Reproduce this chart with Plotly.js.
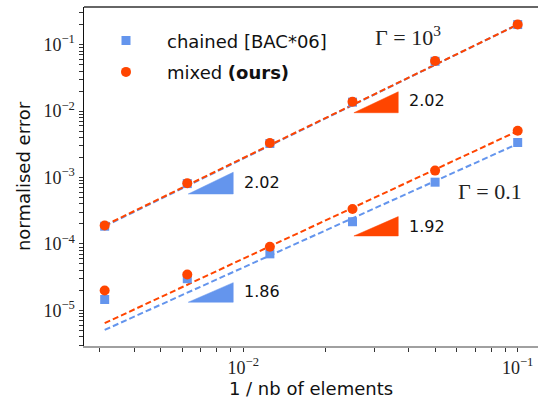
<!DOCTYPE html>
<html><head><meta charset="utf-8">
<script src="https://cdn.plot.ly/plotly-3.0.1.min.js"></script>
<style>html,body{margin:0;padding:0;background:#fff;}#chart{width:538px;height:401px;}</style>
</head><body><div id="chart"></div>
<script>
// 1 / nb of elements
const xVals = [0.003125, 0.00625, 0.0125, 0.025, 0.05, 0.1];
// Gamma = 10^3
const chainedG1000 = [1.85e-4, 8.1e-4, 3.25e-3, 1.36e-2, 5.6e-2, 0.2];
const mixedG1000   = [1.9e-4, 8.2e-4, 3.3e-3, 1.38e-2, 5.66e-2, 0.2];
// Gamma = 0.1
const chainedG01 = [1.46e-5, 3.0e-5, 7.1e-5, 2.16e-4, 8.5e-4, 3.36e-3];
const mixedG01   = [2.0e-5, 3.47e-5, 9.1e-5, 3.36e-4, 1.27e-3, 5.06e-3];
// fitted lines (end points)
const fitX = [0.003125, 0.1];
const fitChainedG1000 = [1.85e-4, 0.2];
const fitMixedG1000   = [1.9e-4, 0.2];
const fitChainedG01   = [5.09e-6, 3.21e-3];
const fitMixedG01     = [6.43e-6, 5.0e-3];
// slope triangles
const triBlueTopX = [0.0063, 0.00919, 0.00919, 0.0063];
const triBlueTopY = [5.65e-4, 5.65e-4, 1.20e-3, 5.65e-4];
const triBlueLowX = [0.0063, 0.00919, 0.00919, 0.0063];
const triBlueLowY = [1.33e-5, 1.33e-5, 2.62e-5, 1.33e-5];
const triOrTopX = [0.0253, 0.0367, 0.0367, 0.0253];
const triOrTopY = [9.43e-3, 9.43e-3, 1.95e-2, 9.43e-3];
const triOrLowX = [0.0253, 0.0367, 0.0367, 0.0253];
const triOrLowY = [1.32e-4, 1.32e-4, 2.58e-4, 1.32e-4];
const slopeLabels = ['2.02', '1.86', '2.02', '1.92'];
// tick labels
const xTickVals = [0.01, 0.1];
const xTickText = ['10<sup>−2</sup>', '10<sup>−1</sup>'];
const yTickVals = [1e-5, 1e-4, 1e-3, 1e-2, 1e-1];
const yTickText = ['10<sup>−5</sup>', '10<sup>−4</sup>', '10<sup>−3</sup>', '10<sup>−2</sup>', '10<sup>−1</sup>'];

const BLUE = '#6495ED', ORANGE = '#FF4500';
const SANS = 'DejaVu Sans', SERIF = 'Liberation Serif';
const X_RANGE = [-2.5805, -0.926], Y_RANGE = [-5.535, -0.435];

function minorTicks(decades) {
  const out = [];
  decades.forEach(function (d) { for (let k = 2; k <= 9; k++) out.push(k * Math.pow(10, d)); });
  return out;
}
const xMinor = minorTicks([-3, -2, -1]);
const yMinor = minorTicks([-6, -5, -4, -3, -2, -1]);
const xAllVals = xTickVals.concat(xMinor);
const xAllText = xTickText.concat(xMinor.map(function () { return ''; }));
const yAllVals = yTickVals.concat(yMinor);
const yAllText = yTickText.concat(yMinor.map(function () { return ''; }));

function fitTrace(y, color) {
  return {x: fitX, y: y, mode: 'lines', showlegend: false, hoverinfo: 'skip',
    line: {color: color, width: 2, dash: '6px,3px'}};
}
function triTrace(x, y, color) {
  return {x: x, y: y, mode: 'lines', fill: 'toself', fillcolor: color,
    line: {color: color, width: 0.5}, showlegend: false, hoverinfo: 'skip'};
}
const nullSep = [null];
const traces = [
  fitTrace(fitChainedG1000, BLUE),
  fitTrace(fitChainedG01, BLUE),
  fitTrace(fitMixedG1000, ORANGE),
  fitTrace(fitMixedG01, ORANGE),
  triTrace(triBlueTopX, triBlueTopY, BLUE),
  triTrace(triBlueLowX, triBlueLowY, BLUE),
  triTrace(triOrTopX, triOrTopY, ORANGE),
  triTrace(triOrLowX, triOrLowY, ORANGE),
  {x: xVals.concat(nullSep, xVals), y: chainedG1000.concat(nullSep, chainedG01),
   mode: 'markers', name: 'chained [BAC*06]', legendgroup: 'a',
   marker: {symbol: 'square', size: 9, color: BLUE}},
  {x: xVals.concat(nullSep, xVals), y: mixedG1000.concat(nullSep, mixedG01),
   mode: 'markers', name: 'mixed <b>(ours)</b>', legendgroup: 'b',
   marker: {symbol: 'circle', size: 10, color: ORANGE}}
];

// plot area in pixels: left 84, top 6.7, right 538, bottom 345.6
const PH = 338.9;
function px(xp) { return (xp - 84) / 454; }
function py(yp) { return (345.6 - yp) / PH; }
function lab(text, xp, yp, font, anchor) {
  return {text: text, xref: 'paper', yref: 'paper', x: px(xp), y: py(yp),
    xanchor: anchor || 'left', yanchor: 'middle', showarrow: false,
    font: font};
}
const numFont = {family: SANS, size: 16, color: '#111'};
const gamFont = {family: SERIF, size: 22, color: '#222'};
const annotations = [
  lab(slopeLabels[0], 242, 182.5, numFont),
  lab(slopeLabels[1], 242, 291, numFont),
  lab(slopeLabels[2], 407, 100.5, numFont),
  lab(slopeLabels[3], 407, 226, numFont),
  lab('Γ = 10<sup>3</sup>', 373, 36, gamFont),
  lab('Γ = 0.1', 456, 191.5, gamFont)
];

const tickFont = {family: SERIF, size: 18, color: '#222'};
const layout = {
  width: 538, height: 401,
  margin: {l: 84, r: 0, t: 6.7, b: 55.4},
  paper_bgcolor: '#fff', plot_bgcolor: '#fff',
  showlegend: true,
  legend: {x: px(85), y: py(22), xanchor: 'left', yanchor: 'top',
    bgcolor: 'rgba(0,0,0,0)', font: {family: SANS, size: 18, color: '#111'},
    tracegroupgap: 5, traceorder: 'grouped', itemwidth: 72},
  xaxis: {type: 'log', range: X_RANGE, showgrid: false, zeroline: false,
    showline: true, linecolor: '#a0a0a0', linewidth: 2,
    ticks: 'outside', ticklen: 4, tickcolor: '#333', tickwidth: 1,
    tickmode: 'array', tickvals: xAllVals, ticktext: xAllText, tickfont: tickFont,
    title: {text: '1 / nb of elements', font: {family: SANS, size: 18, color: '#111'}, standoff: 4}},
  yaxis: {type: 'log', range: Y_RANGE, showgrid: false, zeroline: false,
    showline: true, linecolor: '#111', linewidth: 1.5,
    ticks: 'outside', ticklen: 4, tickcolor: '#333', tickwidth: 1,
    tickmode: 'array', tickvals: yAllVals, ticktext: yAllText, tickfont: tickFont,
    title: {text: 'normalised error', font: {family: SANS, size: 18, color: '#111'}, standoff: 8}},
  shapes: [{type: 'line', xref: 'paper', yref: 'paper', x0: 0, x1: 1, y0: 1, y1: 1,
    line: {color: '#333', width: 1.5}}],
  annotations: annotations
};
Plotly.newPlot('chart', traces, layout, {staticPlot: true});
</script>
</body></html>
